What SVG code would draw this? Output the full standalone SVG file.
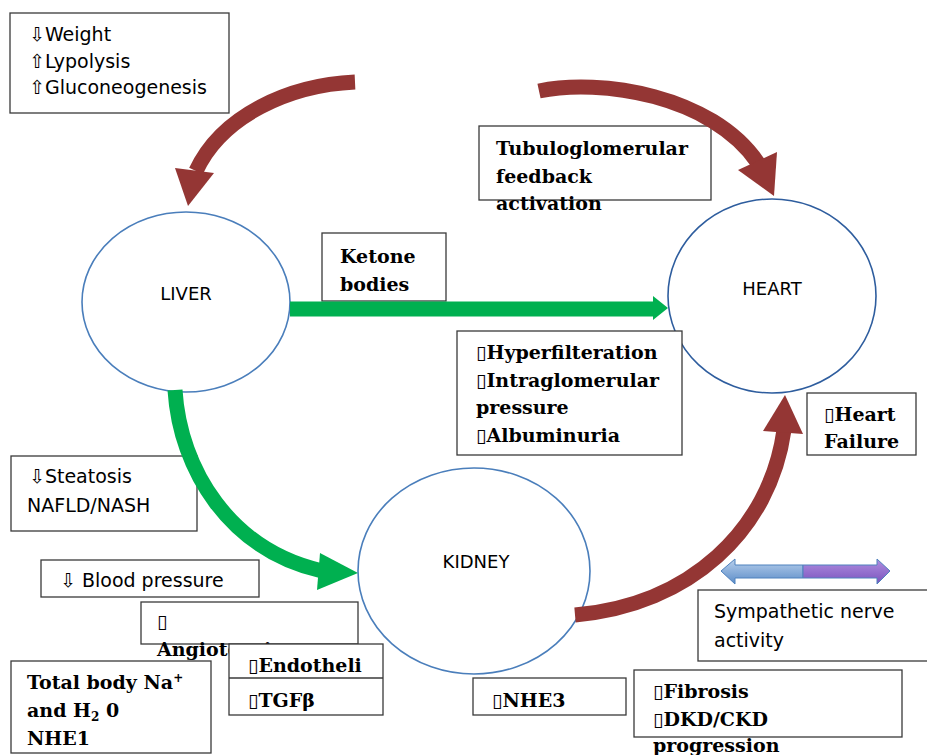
<svg xmlns="http://www.w3.org/2000/svg" width="927" height="755" viewBox="0 0 927 755">
<defs>
<style>
.organ{fill:#fff;stroke:#4a7ebb;stroke-width:1.6}
.box{fill:#fff;stroke:#3a3a3a;stroke-width:1.3}
.sans{font-family:"DejaVu Sans","Liberation Sans",sans-serif;font-size:19px;fill:#000}
.lbl{font-family:"DejaVu Sans","Liberation Sans",sans-serif;font-size:18px;fill:#000;text-anchor:middle}
.serif{font-family:"DejaVu Serif","Liberation Serif",serif;font-weight:bold;font-size:19px;fill:#000}
.brown{fill:none;stroke:#943634;stroke-width:15}
.brownhead{fill:#943634}
.green{fill:none;stroke:#00b050;stroke-width:15}
.greenhead{fill:#00b050}
</style>
<linearGradient id="gBlue" x1="0" y1="0" x2="0" y2="1">
<stop offset="0" stop-color="#b9d0ec"/><stop offset="1" stop-color="#5b8cc8"/>
</linearGradient>
<linearGradient id="gPurple" x1="0" y1="0" x2="0" y2="1">
<stop offset="0" stop-color="#b08fe0"/><stop offset="1" stop-color="#7a52bd"/>
</linearGradient>
</defs>
<rect width="927" height="755" fill="#fff"/>

<g id="liver"><ellipse class="organ" cx="186" cy="302" rx="104" ry="90"/><text class="lbl" x="186" y="300">LIVER</text></g>
<g id="heart"><ellipse class="organ" style="stroke:#2e5d9e" cx="772" cy="296" rx="104" ry="97"/><text class="lbl" x="772" y="295">HEART</text></g>
<g id="kidney"><ellipse class="organ" cx="474" cy="571" rx="116" ry="103"/><text class="lbl" x="476" y="568">KIDNEY</text></g>

<g id="box-weight"><rect class="box" x="10" y="13" width="219" height="100"/>
<text class="sans" x="29" y="41">⇩Weight</text><text class="sans" x="29" y="68">⇧Lypolysis</text><text class="sans" x="29" y="94">⇧Gluconeogenesis</text></g>

<g id="box-tubulo"><rect class="box" x="479" y="126" width="232" height="74"/>
<text class="serif" x="496" y="155">Tubuloglomerular</text><text class="serif" x="496" y="183">feedback</text><text class="serif" x="496" y="210">activation</text></g>

<g id="box-ketone"><rect class="box" x="322" y="233" width="124" height="68"/>
<text class="serif" x="340" y="263">Ketone</text><text class="serif" x="340" y="291">bodies</text></g>

<g id="box-hyper"><rect class="box" x="457" y="331" width="225" height="124"/>
<text class="serif" x="476" y="359">▯Hyperfilteration</text><text class="serif" x="476" y="387">▯Intraglomerular</text><text class="serif" x="476" y="414">pressure</text><text class="serif" x="476" y="442">▯Albuminuria</text></g>

<g id="box-hf"><rect class="box" x="807" y="393" width="109" height="62"/>
<text class="serif" x="824" y="421">▯Heart</text><text class="serif" x="824" y="448">Failure</text></g>

<g id="box-steatosis"><rect class="box" x="11" y="456" width="186" height="75"/>
<text class="sans" x="29" y="483">⇩Steatosis</text><text class="sans" x="27" y="512">NAFLD/NASH</text></g>

<g id="box-bp"><rect class="box" x="41" y="560" width="218" height="37"/>
<text class="sans" x="60" y="587">⇩ Blood pressure</text></g>

<g id="box-angio"><rect class="box" x="141" y="602" width="217" height="42"/>
<text class="serif" x="157" y="628">▯</text><text class="serif" x="157" y="656">Angiotensin</text></g>

<g id="box-endo"><rect class="box" x="229" y="644" width="154" height="71"/>
<line x1="229" y1="678" x2="383" y2="678" stroke="#3a3a3a" stroke-width="1.3"/>
<text class="serif" x="248" y="672">▯Endotheli</text><text class="serif" x="248" y="707">▯TGFβ</text></g>

<g id="box-na"><rect class="box" x="11" y="661" width="200" height="92"/>
<text class="serif" x="27" y="689">Total body Na<tspan font-size="12" dy="-7">+</tspan></text>
<text class="serif" x="27" y="717">and H<tspan font-size="12" dy="4">2</tspan><tspan dy="-4"> 0</tspan></text>
<text class="serif" x="27" y="745">NHE1</text></g>

<g id="box-nhe3"><rect class="box" x="473" y="678" width="153" height="37"/>
<text class="serif" x="492" y="707">▯NHE3</text></g>

<g id="box-fibrosis"><rect class="box" x="634" y="670" width="268" height="67"/>
<text class="serif" x="653" y="698">▯Fibrosis</text><text class="serif" x="653" y="726">▯DKD/CKD</text><text class="serif" x="653" y="752">progression</text></g>

<g id="box-symp"><rect class="box" x="698" y="590" width="240" height="71"/>
<text class="sans" x="714" y="618">Sympathetic nerve</text><text class="sans" x="714" y="647">activity</text></g>

<g id="connectors">
<path class="brown" d="M355,82 C290,85 222,115 196,171"/>
<polygon class="brownhead" points="175,168 214,173 188,206"/>
<path class="brown" d="M539,91 C600,78 712,95 758,163"/>
<polygon class="brownhead" points="738,170 777,152 774,196"/>
<path class="green" d="M290,309 L655,309"/>
<polygon class="greenhead" points="653,296 668,308 653,320"/>
<path class="green" d="M175,390 C180,470 230,550 322,571"/>
<polygon class="greenhead" points="320,553 358,573 317,590"/>
<path class="brown" d="M575,615 C690,605 770,530 784,430"/>
<polygon class="brownhead" points="763,431 803,434 785,395"/>
<polygon fill="url(#gBlue)" stroke="#4f81bd" stroke-width="1" points="803,565 735,565 735,559 721,571 735,584 735,578 803,578"/>
<polygon fill="url(#gPurple)" stroke="#4f81bd" stroke-width="1" points="803,565 877,565 877,559 890,571 877,584 877,578 803,578"/>
</g>
</svg>
